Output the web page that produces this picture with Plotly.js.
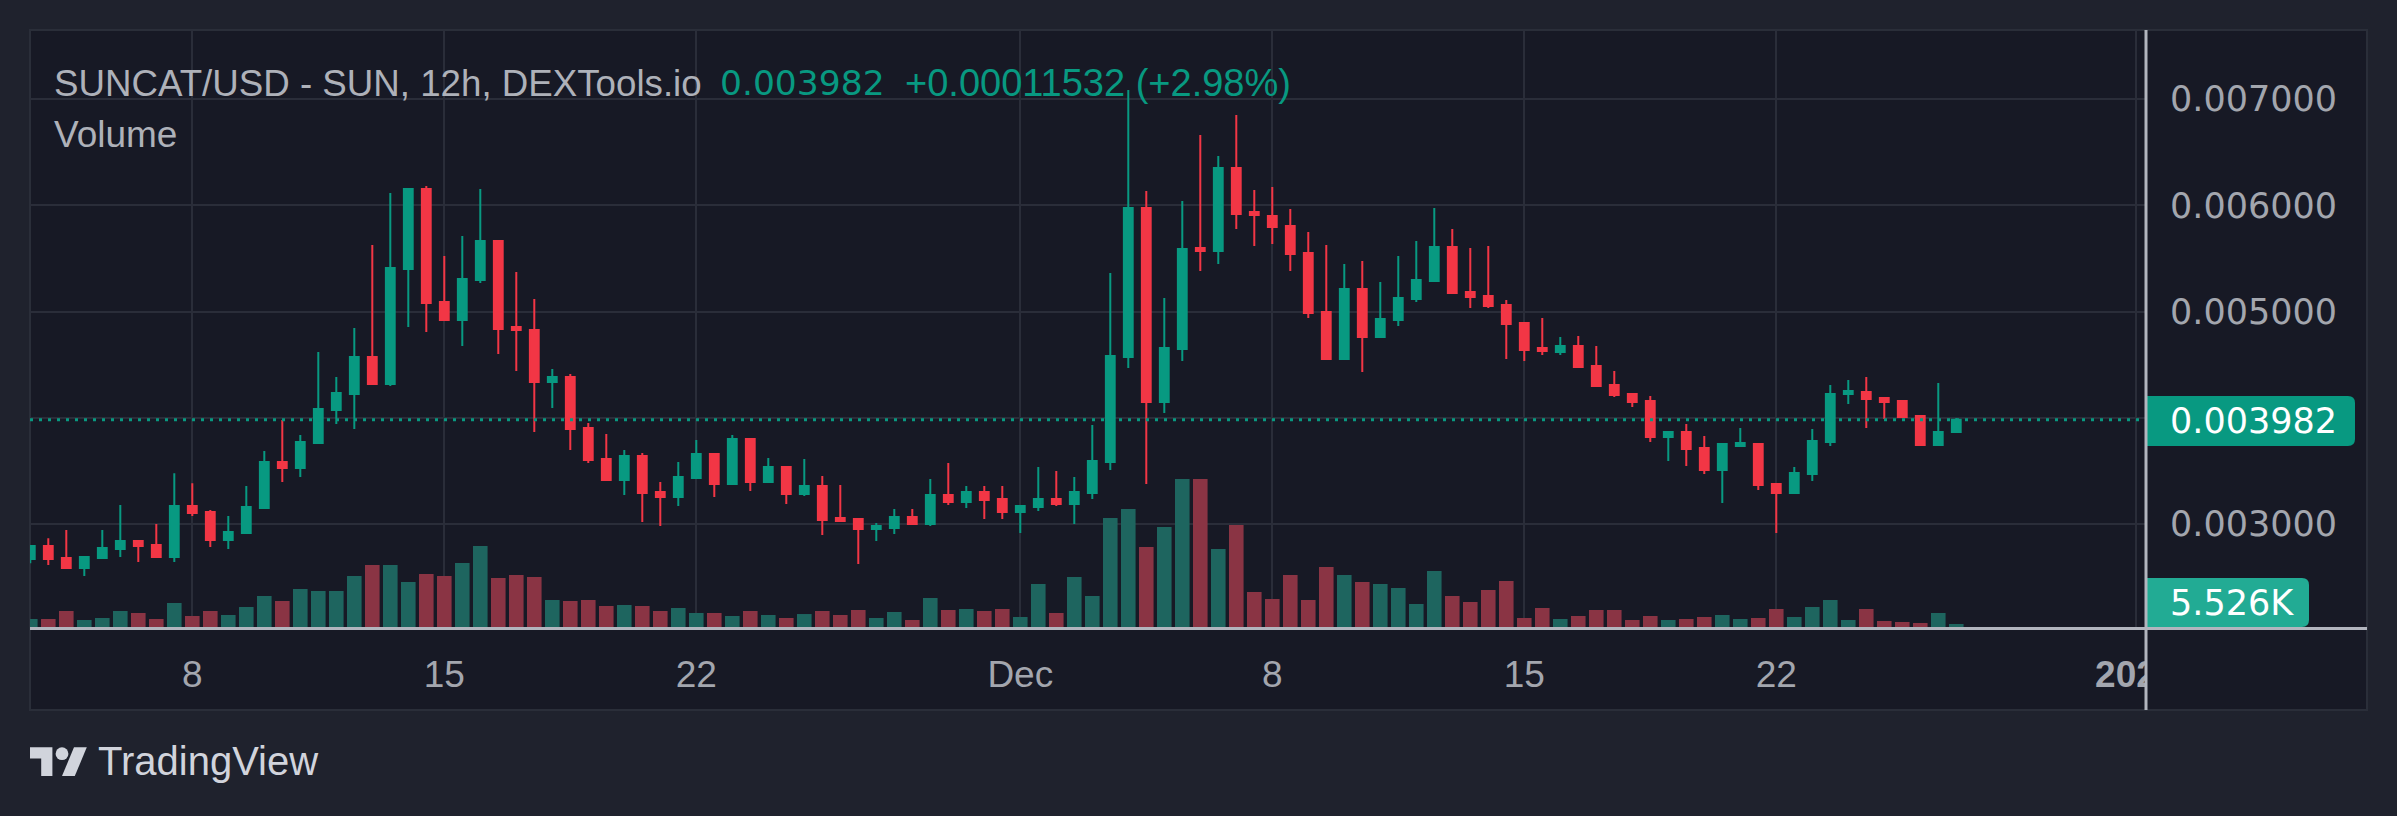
<!DOCTYPE html>
<html>
<head>
<meta charset="utf-8">
<script src="https://cdn.plot.ly/plotly-3.0.1.min.js"></script>
<style>
  html, body { margin: 0; padding: 0; background: #1f222d; }
  #chart { width: 2397px; height: 816px; }
</style>
</head>
<body>
<div id="chart"></div>
<script>
// ---- DATA (12h candles, SUNCAT/USD) ----
const FIRST_BAR = '2024-11-03 12:00';   // first visible 12h bar
const BAR_HOURS = 12;

const OPEN = [
  0.002671,0.002793,0.002680,0.002586,0.002680,0.002765,0.002840,0.002802,0.002689,
  0.003170,0.003113,0.002850,0.002915,0.003151,0.003584,0.003527,0.003763,0.004073,0.004224,
  0.004572,0.004318,0.005401,0.006154,0.005090,0.004921,0.005297,0.005664,0.004855,0.004826,
  0.004337,0.004384,0.003904,0.003612,0.003414,0.003640,0.003301,0.003254,0.003433,0.003659,
  0.003377,0.003800,0.003396,0.003537,0.003283,0.003358,0.003057,0.003047,0.002953,0.002962,
  0.003066,0.003000,0.003273,0.003207,0.003301,0.003235,0.003113,0.003160,0.003235,0.003188,
  0.003292,0.003584,0.004572,0.005975,0.004149,0.004648,0.005598,0.005570,0.006352,0.005937,
  0.005900,0.005806,0.005551,0.004996,0.004553,0.005212,0.004761,0.004921,0.005118,0.005288,
  0.005608,0.005184,0.005147,0.005062,0.004892,0.004657,0.004619,0.004676,0.004488,0.004309,
  0.004224,0.004158,0.003819,0.003866,0.003716,0.003508,0.003734,0.003753,0.003377,0.003292,
  0.003471,0.003772,0.004224,0.004243,0.004186,0.004158,0.004017,0.003744,0.003867
];
const HIGH = [
  0.002802,0.002865,0.002944,0.002689,0.002944,0.003179,0.002840,0.003000,0.003477,
  0.003383,0.003132,0.003075,0.003358,0.003687,0.003979,0.003838,0.004619,0.004384,0.004845,
  0.005627,0.006116,0.006154,0.006182,0.005523,0.005711,0.006154,0.005664,0.005372,0.005118,
  0.004459,0.004412,0.003951,0.003847,0.003697,0.003669,0.003396,0.003584,0.003791,0.003659,
  0.003838,0.003800,0.003621,0.003537,0.003612,0.003452,0.003367,0.003047,0.003010,0.003141,
  0.003141,0.003424,0.003574,0.003358,0.003358,0.003358,0.003170,0.003537,0.003499,0.003443,
  0.003932,0.005363,0.007086,0.006135,0.005128,0.006041,0.006662,0.006464,0.006850,0.006144,
  0.006173,0.005966,0.005749,0.005627,0.005448,0.005476,0.005278,0.005523,0.005664,0.005975,
  0.005777,0.005598,0.005617,0.005109,0.004892,0.004939,0.004761,0.004770,0.004676,0.004440,
  0.004224,0.004205,0.003876,0.003942,0.003829,0.003753,0.003904,0.003753,0.003377,0.003537,
  0.003894,0.004309,0.004356,0.004384,0.004186,0.004167,0.004026,0.004328,0.003998
];
const LOW = [
  0.002630,0.002614,0.002577,0.002511,0.002671,0.002689,0.002642,0.002689,0.002642,
  0.003075,0.002784,0.002765,0.002906,0.003141,0.003396,0.003443,0.003753,0.003942,0.003894,
  0.004318,0.004299,0.004855,0.004808,0.004921,0.004676,0.005269,0.004601,0.004440,0.003866,
  0.004092,0.003697,0.003574,0.003405,0.003273,0.003019,0.002981,0.003170,0.003433,0.003254,
  0.003377,0.003311,0.003396,0.003188,0.003264,0.002897,0.003028,0.002624,0.002840,0.002906,
  0.002991,0.002981,0.003179,0.003151,0.003047,0.003047,0.002915,0.003123,0.003170,0.003000,
  0.003235,0.003508,0.004469,0.003377,0.004045,0.004535,0.005382,0.005448,0.005777,0.005617,
  0.005636,0.005382,0.004939,0.004553,0.004553,0.004431,0.004751,0.004864,0.005090,0.005288,
  0.005165,0.005034,0.005034,0.004553,0.004535,0.004591,0.004591,0.004478,0.004299,0.004196,
  0.004102,0.003772,0.003593,0.003546,0.003471,0.003198,0.003734,0.003320,0.002915,0.003292,
  0.003405,0.003734,0.004130,0.003904,0.003989,0.004007,0.003744,0.003744,0.003857
];
const CLOSE = [
  0.002793,0.002671,0.002586,0.002689,0.002774,0.002840,0.002793,0.002689,0.003170,
  0.003104,0.002850,0.002925,0.003160,0.003584,0.003527,0.003772,0.004083,0.004233,0.004572,
  0.004318,0.005410,0.006154,0.005081,0.004921,0.005307,0.005664,0.004836,0.004826,0.004337,
  0.004384,0.003894,0.003603,0.003414,0.003640,0.003292,0.003254,0.003443,0.003659,0.003377,
  0.003800,0.003396,0.003537,0.003283,0.003358,0.003038,0.003028,0.002953,0.002981,0.003066,
  0.003000,0.003273,0.003207,0.003301,0.003226,0.003113,0.003170,0.003235,0.003188,0.003301,
  0.003593,0.004582,0.005975,0.004149,0.004657,0.005589,0.005570,0.006352,0.005918,0.005909,
  0.005796,0.005542,0.004986,0.004553,0.005212,0.004761,0.004930,0.005128,0.005297,0.005608,
  0.005175,0.005137,0.005052,0.004883,0.004638,0.004629,0.004676,0.004478,0.004299,0.004215,
  0.004149,0.003819,0.003866,0.003706,0.003508,0.003753,0.003763,0.003367,0.003292,0.003480,
  0.003781,0.004224,0.004252,0.004177,0.004149,0.004007,0.003744,0.003867,0.003982
];
// volume in thousands (K)
const VOLUME_K = [
  14.7,14.7,29.5,12.9,16.6,29.5,25.8,14.7,44.2,
  20.3,29.5,22.1,36.8,57.1,47.9,70.0,66.3,66.3,93.9,
  114.2,114.2,82.9,97.6,93.9,117.9,149.2,90.3,95.8,92.1,
  49.7,47.9,49.7,38.7,40.5,38.7,29.5,35.0,25.8,25.8,
  20.3,29.5,22.1,16.6,23.9,29.5,22.1,31.3,16.6,27.6,
  12.9,53.4,31.3,33.2,29.5,33.2,18.4,79.2,25.8,92.1,
  57.1,200.8,217.4,147.4,184.2,272.6,272.6,143.7,187.9,64.5,
  51.6,95.8,49.7,110.5,95.8,82.9,79.2,71.8,42.4,103.2,
  57.1,46.1,68.2,84.7,16.6,35.0,14.7,20.3,31.3,31.3,
  12.9,20.3,12.9,14.7,18.4,22.1,14.7,16.6,33.2,18.4,
  36.8,49.7,12.9,33.2,11.1,9.2,7.4,25.8,5.526
];
const LAST_PRICE = 0.003982;
const LAST_PRICE_TEXT = '0.003982';
const CHANGE_TEXT = '+0.00011532 (+2.98%)';
const LAST_VOLUME_TEXT = '5.526K';
const HEADER_TEXT = 'SUNCAT/USD - SUN, 12h, DEXTools.io';
const X_TICK_DATES = ['2024-11-08','2024-11-15','2024-11-22','2024-12-01','2024-12-08','2024-12-15','2024-12-22','2025-01-01'];
const X_TICK_LABELS = ['8','15','22','Dec','8','15','22','<b>2025</b>'];
const Y_TICK_VALUES = [0.003, 0.004, 0.005, 0.006, 0.007];
const Y_TICK_LABELS = ['0.003000', '', '0.005000', '0.006000', '0.007000'];

// ---- time axis for the bars ----
function barTimes(n) {
  const t0 = Date.parse(FIRST_BAR.replace(' ', 'T') + ':00Z');
  const out = [];
  for (let i = 0; i < n; i++) {
    out.push(new Date(t0 + i * BAR_HOURS * 3600e3).toISOString().slice(0, 16).replace('T', ' '));
  }
  return out;
}
const TIMES = barTimes(CLOSE.length);

// ---- style ----
const UP = '#089981', DOWN = '#f23645';
const UP_VOL = '#1e655f', DOWN_VOL = '#8a3444';
const PANEL = '#171925', OUTER = '#1f222d', GRID = '#2a2d39';
const AXIS_TXT = '#a3a6ae', HEAD_TXT = '#aeb1b9', LINE = '#b2b5be';
const SANS = 'Liberation Sans, Arial, sans-serif';
const WIDE = 'DejaVu Sans, sans-serif';

// pixel -> paper helpers (plot area: x 30..2146, y 30..627)
const PL = 30, PR = 2146, PT = 30, PB = 627;
const px = x => (x - PL) / (PR - PL);
const py = y => (PB - y) / (PB - PT);

const volColors = CLOSE.map((c, i) => c >= OPEN[i] ? UP_VOL : DOWN_VOL);

const traces = [
  {
    type: 'candlestick', x: TIMES, open: OPEN, high: HIGH, low: LOW, close: CLOSE,
    increasing: { line: { color: UP, width: 2 }, fillcolor: UP },
    decreasing: { line: { color: DOWN, width: 2 }, fillcolor: DOWN },
    hoverinfo: 'skip', showlegend: false, xaxis: 'x', yaxis: 'y'
  },
  {
    type: 'bar', x: TIMES, y: VOLUME_K, marker: { color: volColors, line: { width: 0 } },
    hoverinfo: 'skip', showlegend: false, xaxis: 'x', yaxis: 'y2'
  }
];

function roundedRightBox(x0, x1, yTop, yBot, r) {
  const X0 = px(x0), X1 = px(x1), XR = px(x1 - r);
  const YT = py(yTop), YB = py(yBot), YTr = py(yTop + r), YBr = py(yBot - r);
  return `M ${X0},${YB} L ${XR},${YB} Q ${X1},${YB} ${X1},${YBr} L ${X1},${YTr} Q ${X1},${YT} ${XR},${YT} L ${X0},${YT} Z`;
}
function logoPath(pts) {
  return 'M ' + pts.map(p => `${px(p[0])},${py(p[1])}`).join(' L ') + ' Z';
}
const LS = 1.6, LX = 30, LY = 747.3;
const lp = (u, v) => [LX + u * LS, LY + (v - 4) * LS];

const shapes = [
  // chart panel
  { type: 'rect', xref: 'paper', yref: 'paper', layer: 'below',
    x0: px(30), x1: px(2367), y0: py(710), y1: py(30),
    fillcolor: PANEL, line: { color: '#2a2e39', width: 2 } },
  // last price dotted line
  { type: 'line', xref: 'paper', yref: 'y', layer: 'above',
    x0: 0, x1: 1, y0: LAST_PRICE, y1: LAST_PRICE,
    line: { color: UP, width: 3, dash: '3px,6px' } },
  // cover for the time scale under price scale (clips "2025")
  { type: 'rect', xref: 'paper', yref: 'paper', layer: 'above',
    x0: px(2147), x1: px(2365), y0: py(708), y1: py(631),
    fillcolor: PANEL, line: { width: 0 } },
  // price label box
  { type: 'path', xref: 'paper', yref: 'paper', layer: 'above',
    path: roundedRightBox(2146, 2355, 396, 446, 7), fillcolor: UP, line: { width: 0 } },
  // volume label box
  { type: 'path', xref: 'paper', yref: 'paper', layer: 'above',
    path: roundedRightBox(2146, 2309, 578, 627, 7), fillcolor: '#22ab94', line: { width: 0 } },
  // price scale border
  { type: 'line', xref: 'paper', yref: 'paper', layer: 'above',
    x0: px(2146), x1: px(2146), y0: py(710), y1: py(30), line: { color: LINE, width: 3 } },
  // time scale border
  { type: 'line', xref: 'paper', yref: 'paper', layer: 'above',
    x0: px(30), x1: px(2367), y0: py(628.5), y1: py(628.5), line: { color: LINE, width: 3 } },
  // TradingView logo
  { type: 'path', xref: 'paper', yref: 'paper', layer: 'above', fillcolor: '#d1d4dc', line: { width: 0 },
    path: logoPath([lp(0,4), lp(14,4), lp(14,22), lp(7,22), lp(7,11), lp(0,11)]) },
  { type: 'path', xref: 'paper', yref: 'paper', layer: 'above', fillcolor: '#d1d4dc', line: { width: 0 },
    path: logoPath([lp(20,22), lp(27.5,4), lp(35.5,4), lp(28,22)]) },
  { type: 'circle', xref: 'paper', yref: 'paper', layer: 'above', fillcolor: '#d1d4dc', line: { width: 0 },
    x0: px(LX + 16 * LS), x1: px(LX + 24 * LS), y0: py(LY + 8 * LS), y1: py(LY) }
];

const ann = (text, x, y, font, extra) => Object.assign({
  text, xref: 'paper', yref: 'paper', x: px(x), y: py(y),
  xanchor: 'left', yanchor: 'middle', showarrow: false, font, borderpad: 0
}, extra || {});

const annotations = [
  ann(HEADER_TEXT, 53, 83, { family: SANS, size: 36.7, color: HEAD_TXT }),
  ann(LAST_PRICE_TEXT, 719, 83, { family: WIDE, size: 34.5, color: UP }),
  ann(CHANGE_TEXT, 904, 83, { family: SANS, size: 38, color: UP }),
  ann('Volume', 53, 134, { family: SANS, size: 37, color: HEAD_TXT }),
  ann(LAST_PRICE_TEXT, 2169, 421, { family: WIDE, size: 35, color: '#ffffff' }),
  ann(LAST_VOLUME_TEXT, 2169, 603, { family: WIDE, size: 35, color: '#ffffff' }),
  ann('TradingView', 97, 761, { family: SANS, size: 40, color: '#d1d4dc' })
];

const layout = {
  width: 2397, height: 816,
  margin: { l: PL, r: 2397 - PR, t: PT, b: 816 - PB, pad: 0 },
  paper_bgcolor: OUTER, plot_bgcolor: PANEL,
  showlegend: false, bargap: 0.19,
  xaxis: {
    type: 'date', range: ['2024-11-03 11:48', '2025-01-01 06:29'],
    rangeslider: { visible: false },
    tickmode: 'array', tickvals: X_TICK_DATES, ticktext: X_TICK_LABELS,
    showgrid: true, gridcolor: GRID, gridwidth: 2, zeroline: false,
    showline: false, ticks: '', ticklabelstandoff: 22,
    tickfont: { family: SANS, size: 37, color: AXIS_TXT }, fixedrange: true
  },
  yaxis: {
    side: 'right', range: [0.002030, 0.0076507],
    tickmode: 'array', tickvals: Y_TICK_VALUES, ticktext: Y_TICK_LABELS,
    showgrid: true, gridcolor: GRID, gridwidth: 2, zeroline: false,
    showline: false, ticks: '', ticklabelstandoff: 23,
    tickfont: { family: WIDE, size: 35, color: AXIS_TXT }, fixedrange: true
  },
  yaxis2: {
    overlaying: 'y', range: [0, 1099.7], visible: false, showgrid: false, fixedrange: true
  },
  shapes, annotations
};

Plotly.newPlot('chart', traces, layout, { displayModeBar: false, staticPlot: true });
</script>
</body>
</html>
